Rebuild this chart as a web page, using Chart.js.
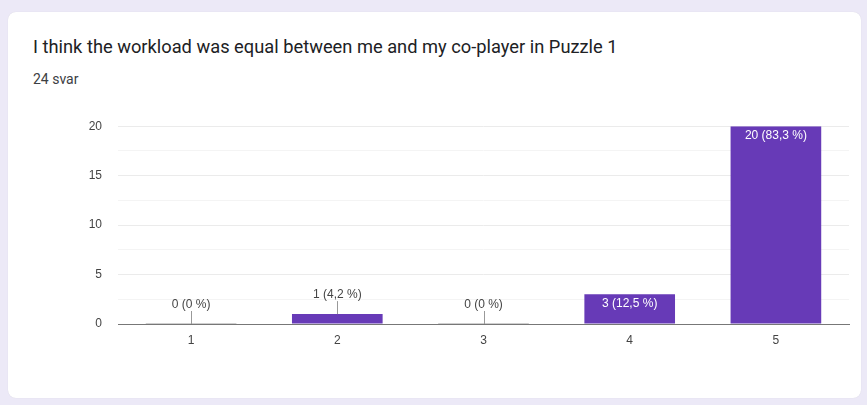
<!DOCTYPE html>
<html>
<head>
<meta charset="utf-8">
<script src="https://cdn.jsdelivr.net/npm/chart.js@4.4.0/dist/chart.umd.min.js"></script>
<style>
  html, body { margin: 0; padding: 0; }
  body { width: 867px; height: 405px; background: #ece9f7; position: relative; overflow: hidden; font-family: Roboto, Arial, sans-serif; }
  .card { position: absolute; left: 8px; top: 12px; width: 853px; height: 386px; background: #fff; border-radius: 8px; box-shadow: 0 0 1px rgba(0,0,0,0.12); }
  .title { position: absolute; left: 25px; top: 24px; font-size: 18.3px; color: #202124; white-space: nowrap; }
  .count { position: absolute; left: 25px; top: 59px; font-size: 14px; color: #3c4043; }
  .wrap { position: absolute; left: 0; top: 91px; width: 853px; height: 267px; }
</style>
</head>
<body>
<div class="card">
  <div class="title">I think the workload was equal between me and my co-player in Puzzle 1</div>
  <div class="count">24 svar</div>
  <div class="wrap"><canvas id="myChart"></canvas></div>
</div>
<script>
// svar per alternativ
const categories = ['1', '2', '3', '4', '5'];
const answers = [0, 1, 0, 3, 20];
const yTicks = [0, 5, 10, 15, 20];

const total = answers.reduce((sum, v) => sum + v, 0);
const barColor = '#673ab7';

function labelFor(value) {
  const pct = total ? Math.round(value / total * 1000) / 10 : 0;
  return value + ' (' + String(pct).replace('.', ',') + ' %)';
}

// tegner verdietiketter og nullstreker
const barLabels = {
  id: 'barLabels',
  afterDatasetsDraw(chart) {
    const ctx = chart.ctx;
    const meta = chart.getDatasetMeta(0);
    const base = chart.scales.y.getPixelForValue(0);
    ctx.save();
    ctx.font = '12px Arial, sans-serif';
    ctx.textAlign = 'center';
    meta.data.forEach((bar, i) => {
      const value = answers[i];
      const top = bar.y;
      const h = base - top;
      if (value === 0) {
        ctx.strokeStyle = '#cfcfcf';
        ctx.lineWidth = 1;
        ctx.beginPath();
        ctx.moveTo(bar.x - bar.width / 2, base - 0.5);
        ctx.lineTo(bar.x + bar.width / 2, base - 0.5);
        ctx.stroke();
      }
      if (h >= 22) {
        ctx.fillStyle = '#ffffff';
        ctx.textBaseline = 'top';
        ctx.fillText(labelFor(value), bar.x, top + 3);
      } else {
        ctx.strokeStyle = '#999';
        ctx.lineWidth = 1;
        ctx.beginPath();
        ctx.moveTo(Math.round(bar.x) + 0.5, top - 13);
        ctx.lineTo(Math.round(bar.x) + 0.5, top);
        ctx.stroke();
        ctx.fillStyle = '#444';
        ctx.textBaseline = 'alphabetic';
        ctx.fillText(labelFor(value), bar.x, top - 16);
      }
    });
    ctx.restore();
  }
};

const ctx = document.getElementById('myChart').getContext('2d');
const chart = new Chart(ctx, {
  type: 'bar',
  data: {
    labels: categories,
    datasets: [{
      data: answers,
      backgroundColor: barColor,
      borderWidth: 0,
      barPercentage: 0.62,
      categoryPercentage: 1
    }]
  },
  options: {
    responsive: true,
    maintainAspectRatio: false,
    animation: false,
    layout: { padding: { top: 9, right: 12, bottom: 0, left: 0 } },
    plugins: { legend: { display: false }, tooltip: { enabled: false } },
    scales: {
      x: {
        grid: { display: false, drawTicks: false },
        border: { display: true, color: '#777', width: 1 },
        ticks: { color: '#444', font: { family: 'Arial', size: 12 }, padding: 9 },
        afterFit(scale) { scale.height = 46; }
      },
      y: {
        min: 0,
        max: 20,
        border: { display: false },
        afterBuildTicks(scale) {
          const list = [];
          for (let v = 0; v <= 20; v += 2.5) list.push({ value: v });
          scale.ticks = list;
        },
        grid: {
          drawTicks: false,
          color: c => c.tick.value === 0 ? 'rgba(0,0,0,0)' : (yTicks.includes(c.tick.value) ? '#ebebeb' : '#f4f4f4')
        },
        ticks: {
          color: '#444',
          font: { family: 'Arial', size: 12 },
          padding: 16,
          callback: v => yTicks.includes(v) ? v : ''
        },
        afterFit(scale) { scale.width = 110; }
      }
    }
  },
  plugins: [barLabels]
});
</script>
</body>
</html>
